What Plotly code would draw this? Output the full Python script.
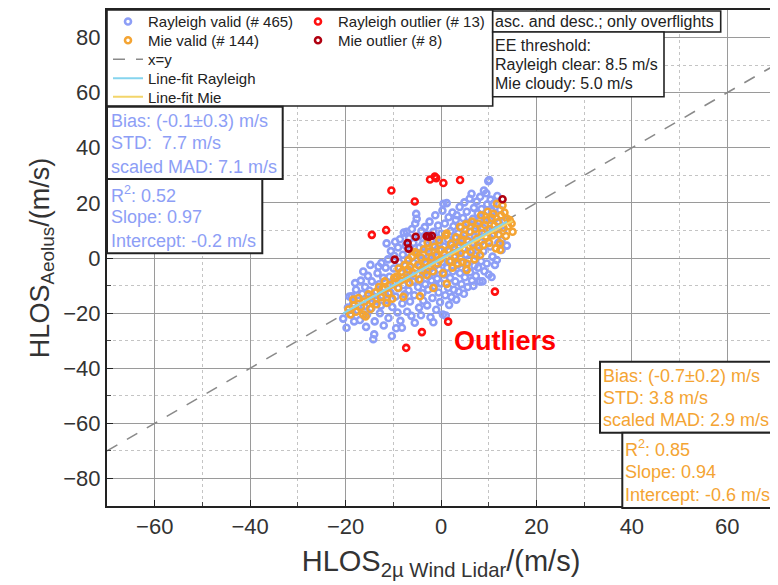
import plotly.graph_objects as go

# ---------------- data ----------------
rayleigh_valid = [
    (-20.5, -22), (-19.8, -25.3), (-19.5, -18), (-19.2, -14), (-18.8, -20.5), (-18.7, -13.9),
    (-18.4, -16.5), (-18.0, -9.1), (-18.2, -23), (-17.8, -11.5), (-17.5, -19), (-17.3, -15.5),
    (-17.0, -22.5), (-16.8, -8.2), (-16.5, -13), (-16.3, -4.9), (-16.1, -17.5), (-15.9, -10.5),
    (-15.7, -25), (-15.5, -20.5), (-15.3, -6.5), (-15.2, -14.8), (-15.0, -11.8), (-14.8, -2.5),
    (-14.6, -18.2), (-14.5, -8.5), (-14.2, -29.5), (-14.0, -27.7), (-13.9, -23), (-13.7, -15.5),
    (-13.5, -12.2), (-13.3, -5.5), (-13.1, -3.1), (-13.0, -9.5), (-12.8, -20), (-12.6, -17.3),
    (-12.5, -1.8), (-12.3, -13.6), (-12.1, -7.2), (-12.0, -24.5), (-11.8, -10.8), (-11.6, -3.5),
    (-11.4, 5.3), (-11.3, -15.2), (-11.1, -0.5), (-11.0, -21.8), (-10.8, -6.8), (-10.6, -12.5),
    (-10.5, 2.5), (-10.3, -28.3), (-10.2, -17.8), (-10.0, -9.2), (-9.9, -3.8), (-9.8, 0.8),
    (-9.6, 5.9), (-9.5, -14), (-9.4, -25.5), (-9.3, -7.5), (-9.1, -19.8), (-9.0, 3.8),
    (-8.9, -11), (-8.8, -1.5), (-8.6, 6.8), (-8.5, -22.8), (-8.4, -5.2), (-8.2, -25.3),
    (-8.1, -16.5), (-8.0, 1.2), (-7.9, -9.8), (-7.8, 9.2), (-7.6, -13.2), (-7.5, -2.8),
    (-7.4, 4.5), (-7.2, 9.5), (-7.1, -19.5), (-7.0, -7), (-6.9, -0.2), (-6.8, -11.8),
    (-6.7, 7.2), (-6.6, -4.5), (-6.5, -15.8), (-6.3, 2.8), (-6.2, -21), (-6.1, 10.5),
    (-5.9, -8.5), (-5.8, 5.5), (-5.7, -1.8), (-5.6, -13.5), (-5.5, -23.5), (-5.4, 12.5),
    (-5.2, 16), (-5.1, 14.2), (-5.0, -5.8), (-4.9, 1.5), (-4.8, -10.5), (-4.7, 7.8),
    (-4.6, -18), (-4.5, 3.8), (-4.4, -3.2), (-4.3, -7.8), (-4.2, -20.8), (-4.1, 9.8),
    (-4.0, -0.8), (-3.9, -12.8), (-3.8, 5.2), (-3.7, -15.5), (-3.6, 1.8), (-3.5, -5.5),
    (-3.4, 11.2), (-3.3, -9.5), (-3.2, -2.2), (-3.0, 8.5), (-2.9, -17.2), (-2.8, 3.5),
    (-2.7, -11.5), (-2.6, -6.5), (-2.5, 0.5), (-2.4, 13.2), (-2.3, -3.8), (-2.2, -21.5),
    (-2.1, 6.2), (-2.0, -8.2), (-1.9, -0.2), (-1.8, -14.5), (-1.7, 4.5), (-1.6, -23.3),
    (-1.6, 9.5), (-1.5, -5.2), (-1.4, -10.2), (-1.3, 2.2), (-1.2, 15.5), (-1.1, -2.5),
    (-1.0, -18.8), (-0.9, 7.2), (-0.8, -7.5), (-0.7, 0.8), (-0.6, 11.8), (-0.5, -12.5),
    (-0.4, -4.2), (-0.3, 5.5), (-0.2, -16), (-0.1, 2.8), (0.0, -9.2), (0.1, 8.8),
    (0.2, -1.5), (0.3, 17.2), (0.4, -20.5), (0.5, 19.7), (0.6, 4.2), (0.7, -6),
    (0.8, 12.5), (0.9, -13.5), (1.0, -20.9), (1.1, 0.2), (1.2, 19.9), (1.3, -3.5),
    (1.4, 6.8), (1.5, -10.8), (1.6, 14.8), (1.7, -17), (1.8, 2.5), (1.9, -7.2),
    (2.0, 9.8), (2.1, -1), (2.2, -14.2), (2.3, 4.8), (2.4, 16.5), (2.5, -4.8),
    (2.6, 11.5), (2.7, -11.5), (2.8, 0.8), (2.9, 7.5), (3.0, -8.5), (3.1, 13.8),
    (3.2, -15.1), (3.3, 15.5), (3.4, 2.2), (3.5, -2.5), (3.6, 9), (3.7, -12.2),
    (3.8, 5.8), (3.9, 18.5), (4.0, -5.5), (4.1, 0.5), (4.2, 11.2), (4.3, -9.5),
    (4.4, 7.2), (4.5, -1.8), (4.6, 14.5), (4.7, 3.5), (4.8, -13), (4.9, 20.2),
    (5.0, -7), (5.1, 10.2), (5.2, 1.2), (5.3, -3.8), (5.4, 16.8), (5.5, 6.5),
    (5.6, -10.5), (5.7, 12.8), (5.8, -0.5), (5.9, 4.2), (6.0, 21.5), (6.1, -5.2),
    (6.2, 9.5), (6.4, 23.3), (6.5, -8.2), (6.6, 2.8), (6.7, 14.2), (6.8, -10.1),
    (6.9, 18.2), (7.0, -2.8), (7.1, 7.8), (7.2, 11.8), (7.3, -6.5), (7.4, 0.8),
    (7.5, 20.5), (7.6, 4.5), (7.7, 16.2), (7.8, -3.5), (7.9, 9.2), (8.0, 13.5),
    (8.1, -8.5), (8.2, 22.2), (8.3, 5.8), (8.4, -1.2), (8.5, 17.8), (8.7, -8.5),
    (8.8, 11), (8.9, 2.5), (9.0, 24.5), (9.1, -4.8), (9.2, 15.2), (9.4, 7.5),
    (9.5, 23.5), (9.6, -2), (9.7, 19.5), (9.8, 10.2), (9.9, 27.9), (10.0, -6),
    (10.1, 28.3), (10.2, 13.8), (10.3, 4.2), (10.4, 21.2), (10.6, -6.9), (10.7, 17),
    (10.8, 0.5), (11.0, 19.7), (11.1, 8.8), (11.3, -2.5), (11.5, 14.5), (11.7, -0.7),
    (11.8, 22.5), (12.0, 5.5), (12.2, 11.2), (12.4, 17.5), (12.7, 6.5), (12.7, 2.9),
    (13.0, 9.8), (13.3, 13.5), (13.8, 4.5),
]

mie_valid = [
    (-19.4, -18.7), (-19.0, -20.5), (-18.4, -15.1), (-18.2, -17.2), (-17.8, -19.5), (-17.3, -14.5),
    (-16.8, -17.8), (-16.3, -20.5), (-16.0, -15.8), (-15.8, -21.2), (-15.2, -13.2), (-14.8, -18.5),
    (-14.5, -15.7), (-13.8, -12.5), (-13.5, -16.8), (-13.0, -10.5), (-12.6, -14.2), (-12.2, -11.2),
    (-11.8, -8.5), (-11.4, -16.3), (-11.0, -12.8), (-10.6, -9.8), (-10.2, -14.8), (-9.8, -7.2),
    (-9.3, -6.7), (-9.0, -10.8), (-8.9, -3.8), (-8.5, -8.2), (-8.2, -5), (-7.9, -14.1),
    (-7.6, -2.5), (-7.3, -7.5), (-7.0, -4.2), (-6.8, -0.7), (-6.6, -9), (-6.4, -3.2),
    (-6.1, 0.5), (-5.8, -5.5), (-5.5, 2.2), (-5.1, 1.7), (-4.8, -2.5), (-4.6, -7.8),
    (-4.4, -13.9), (-4.2, 0.2), (-3.9, -4.5), (-3.6, 3.2), (-3.3, -1.5), (-3.0, -6.2),
    (-2.8, 5.5), (-2.6, 2.3), (-2.3, -2.8), (-2.0, 0.2), (-1.7, -4.8), (-1.6, -10.9),
    (-1.3, 4.1), (-1.0, 1.2), (-0.7, -2), (-0.4, 6.5), (-0.2, -0.5), (0.1, 3),
    (0.4, -5.5), (0.7, 1.5), (1.0, 8.2), (1.2, 8.9), (1.2, -9.4), (1.5, 2.9),
    (1.8, -1.2), (2.1, 5.2), (2.4, -3.5), (2.7, 3.8), (3.0, 0.5), (3.2, 7.5),
    (3.5, -2), (3.8, 4.5), (4.0, 11.3), (4.1, 1.8), (4.3, 6.2), (4.5, -1.5),
    (4.8, 8.5), (5.0, 3.2), (5.2, 12.2), (5.4, -2), (5.4, -4.3), (5.7, 6),
    (6.0, 9.5), (6.2, 2.2), (6.5, 13.2), (6.7, 4.8), (7.0, -0.5), (7.2, 10.5),
    (7.5, 7), (7.8, 12.5), (8.0, 3.8), (8.2, 1.1), (8.4, 15.5), (8.6, 9),
    (8.9, 4.7), (9.2, 12), (9.4, 7.8), (9.6, 13.7), (9.8, 16.8), (10.1, 5.5),
    (10.3, 10.5), (10.6, 14.5), (10.8, 8.2), (11.0, 16), (11.2, 11.8), (11.5, 3.5),
    (11.7, 19.7), (11.9, 13), (12.1, 8.5), (12.4, 5.3), (12.4, 2.9), (12.6, 15.5),
    (12.9, 19.1), (13.1, 11), (13.3, 16.5), (13.6, 8), (13.8, 14.3), (14.1, 11.5),
    (14.4, 13.8), (14.8, 12.5), (15.0, 9.5),
]

rayleigh_outlier = [
    (-10.4, 24.5), (-5.5, 20.5), (-14.5, 8.4), (-11.5, 10.1), (-2.3, 28.5), (-1.3, 29.6),
    (0.5, 27.2), (4.0, 28.3), (11.3, -12.2), (1.5, -23.1), (-4.0, -26.9), (-7.3, -32.6),
    (-1.0, 29.0),
]

mie_outlier = [
    (12.9, 21.3), (-7.0, 5.4), (-6.8, 3.4), (-5.3, 7.7), (-3.0, 7.9), (-1.9, 8.1),
    (-9.7, -0.6), (-2.5, 7.7),
]

rayleigh_slope, rayleigh_intercept = 0.97, -0.2
mie_slope, mie_intercept = 0.94, -0.6

x_range = [-70, 70]
y_range = [-90, 90]

legend_names = {
    "rv": "Rayleigh valid (# 465)",
    "mv": "Mie valid (# 144)",
    "ro": "Rayleigh outlier (# 13)",
    "mo": "Mie outlier (# 8)",
    "xy": "x=y",
    "fr": "Line-fit Rayleigh",
    "fm": "Line-fit Mie",
}

rayleigh_stats = ["Bias: (-0.1±0.3) m/s", "STD:\u00a0 7.7 m/s", "scaled MAD: 7.1 m/s"]
rayleigh_fit_text = ["R<sup>2</sup>: 0.52", "Slope: 0.97", "Intercept: -0.2 m/s"]
mie_stats = ["Bias: (-0.7±0.2) m/s", "STD: 3.8 m/s", "scaled MAD: 2.9 m/s"]
mie_fit_text = ["R<sup>2</sup>: 0.85", "Slope: 0.94", "Intercept: -0.6 m/s"]
info_text = "asc. and desc.; only overflights"
ee_text = ["EE threshold:", "Rayleigh clear: 8.5 m/s", "Mie cloudy: 5.0 m/s"]

# ---------------- colours ----------------
C_RAY = "#8D9EF6"
C_MIE = "#F4A433"
C_RO = "#FF1010"
C_MO = "#B00010"
C_FR = "#86D4EE"
C_FM = "#F3D56A"
FONT = "Liberation Sans, Arial, sans-serif"

# ---------------- geometry ----------------
# the page adds an 8 px body margin, so the figure is 8 px smaller than the window
W, H = 770, 577
# plot area in window (screen) pixels
SX0, SX1, SY0, SY1 = 107, 775, 10, 506
OFF = 8
L, R, T, B = SX0 - OFF, W - (SX1 - OFF), SY0 - OFF, H - (SY1 - OFF)


def px(xs_):
    return (xs_ - SX0) / (SX1 - SX0)


def py(ys_):
    return (SY1 - ys_) / (SY1 - SY0)


def xs(pts):
    return [p[0] for p in pts]


def ys(pts):
    return [p[1] for p in pts]


fig = go.Figure()

ring = dict(symbol="circle-open", size=6)

# x=y line
fig.add_trace(go.Scatter(
    x=x_range, y=x_range, mode="lines", name=legend_names["xy"], legend="legend3",
    line=dict(color="#8a8a8a", width=1.6, dash="12px,11px")))

fig.add_trace(go.Scatter(
    x=xs(rayleigh_valid), y=ys(rayleigh_valid), mode="markers", name=legend_names["rv"],
    legend="legend", marker=dict(**ring, color=C_RAY, line=dict(color=C_RAY, width=2.6))))
fig.add_trace(go.Scatter(
    x=xs(mie_valid), y=ys(mie_valid), mode="markers", name=legend_names["mv"],
    legend="legend2", marker=dict(**ring, color=C_MIE, line=dict(color=C_MIE, width=2.6))))
fig.add_trace(go.Scatter(
    x=xs(rayleigh_outlier), y=ys(rayleigh_outlier), mode="markers", name=legend_names["ro"],
    legend="legend6", marker=dict(**ring, color=C_RO, line=dict(color=C_RO, width=2.6))))
fig.add_trace(go.Scatter(
    x=xs(mie_outlier), y=ys(mie_outlier), mode="markers", name=legend_names["mo"],
    legend="legend7", marker=dict(**ring, color=C_MO, line=dict(color=C_MO, width=2.6))))

# fit lines over the data extent
mx = [min(xs(mie_valid)), max(xs(mie_valid))]
rx = [min(xs(rayleigh_valid)), max(xs(rayleigh_valid))]
fig.add_trace(go.Scatter(
    x=mx, y=[mie_slope * v + mie_intercept for v in mx], mode="lines",
    name=legend_names["fm"], legend="legend5", line=dict(color=C_FM, width=2)))
fig.add_trace(go.Scatter(
    x=rx, y=[rayleigh_slope * v + rayleigh_intercept for v in rx], mode="lines",
    name=legend_names["fr"], legend="legend4", line=dict(color=C_FR, width=2)))

axis_common = dict(
    showline=True, mirror=True, linecolor="#222", linewidth=2,
    showgrid=True, gridcolor="#9a9a9a", gridwidth=1.3, zeroline=False,
    ticks="inside", ticklen=6, tickwidth=1.3, tickcolor="#222",
    dtick=20, tick0=0, tickmode="linear",
    minor=dict(dtick=10, tick0=0, showgrid=True, gridcolor="#c4c4c4", griddash="dot",
               gridwidth=1, ticks="inside", ticklen=4, tickcolor="#444"),
    tickfont=dict(size=22, color="#333", family=FONT),
)

fig.update_xaxes(range=x_range, **axis_common,
                 title=dict(text="HLOS<sub>2µ Wind Lidar</sub>/(m/s)",
                            font=dict(size=29, color="#333", family=FONT), standoff=12))
fig.update_yaxes(range=y_range, **axis_common,
                 title=dict(text="HLOS<sub>Aeolus</sub>/(m/s)",
                            font=dict(size=27, color="#333", family=FONT), standoff=6))

# ---------------- boxes ----------------
shapes = []


def box(x0, y0, x1, y1, lw=1.6):
    shapes.append(dict(type="rect", xref="paper", yref="paper", x0=px(x0), x1=px(x1),
                       y0=py(y1), y1=py(y0), line=dict(color="#222", width=lw),
                       fillcolor="white", layer="above"))


box(107, 10, 492.7, 106)
box(492.7, 11, 720.7, 32)
box(492.7, 32, 664, 96.7)
box(107, 106.7, 282.7, 179, 2)
box(107, 179, 262.3, 253.3, 2)
box(600, 361.7, 800, 432.7, 2)
box(622.3, 432.7, 800, 508, 2)

annotations = []


def label(x, y, text, size, color, bold=False):
    annotations.append(dict(xref="paper", yref="paper", x=px(x), y=py(y), text=text,
                            showarrow=False, xanchor="left", yanchor="middle",
                            font=dict(size=size, color=color, family=FONT,
                                      weight="bold" if bold else "normal")))


for t, yy in zip(rayleigh_stats, [120.7, 143.3, 166.7]):
    label(108.5, yy, t, 18, C_RAY)
for t, yy in zip(rayleigh_fit_text, [195, 217.3, 240.7]):
    label(108.5, yy, t, 18, C_RAY)
for t, yy in zip(mie_stats, [375.7, 398.3, 420]):
    label(600.5, yy, t, 18, C_MIE)
for t, yy in zip(mie_fit_text, [448.3, 471.7, 495]):
    label(622.5, yy, t, 18, C_MIE)
label(493, 21.5, info_text, 16, "#222")
for t, yy in zip(ee_text, [45, 65, 83.3]):
    label(493, yy, t, 16, "#222")
label(452, 341, "Outliers", 27, "#FF0000", bold=True)


# ---------------- legends (one per entry to get the compact row spacing) ----------------
def leg(x, y):
    return dict(x=px(x), y=py(y), xanchor="left", yanchor="middle", bgcolor="rgba(0,0,0,0)",
                borderwidth=0, font=dict(size=15, color="#222", family=FONT),
                itemsizing="trace")


fig.update_layout(
    width=W, height=H,
    margin=dict(l=L, r=R, t=T, b=B, autoexpand=False),
    plot_bgcolor="white", paper_bgcolor="white",
    font=dict(family=FONT, color="#333"),
    showlegend=True,
    legend=leg(108, 21.7),
    legend2=leg(108, 40.5),
    legend3=leg(108, 59.5),
    legend4=leg(108, 78.5),
    legend5=leg(108, 97),
    legend6=leg(298, 21.7),
    legend7=leg(298, 40.5),
    shapes=shapes,
    annotations=annotations,
)

fig.write_html("out.html")
